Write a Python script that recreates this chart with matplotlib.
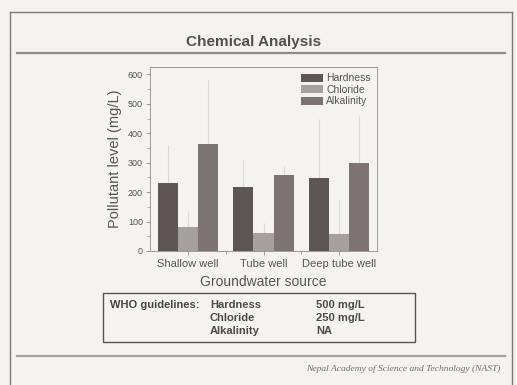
import numpy as np
import matplotlib
matplotlib.use("Agg")
import matplotlib.pyplot as plt
from matplotlib.lines import Line2D
from matplotlib.patches import Rectangle

plt.rcParams["font.family"] = ["Liberation Sans", "DejaVu Sans"]

# ── data ──
sources = ["Shallow well", "Tube well", "Deep tube well"]
params = ["Hardness", "Chloride", "Alkalinity"]
hardness = [230, 218, 248]
chloride = [80, 60, 57]
alkalinity = [365, 257, 300]
# upper end of the (faint) error bars
hardness_top = [360, 308, 450]
chloride_top = [133, 94, 173]
alkalinity_top = [580, 290, 460]

who_limits = ["500 mg/L", "250 mg/L", "NA"]

W, H = 517, 385
bg = "#f4f3f1"
colors = ["#5e5556", "#a6a0a1", "#7d7374"]
text_gray = "#555555"


def fx(x):
    return x / W


def fy(y):
    return 1 - y / H


fig = plt.figure(figsize=(W / 100, H / 100), dpi=100, facecolor=bg)

# ── slide frame, title, rules ──
for xs, ys, c, lw in [
    ([10, 10], [12, H], "#7a7a7a", 1.0),
    ([10, 512], [12, 12], "#7a7a7a", 1.0),
    ([512, 512], [12, H], "#7a7a7a", 1.0),
    ([17, 505], [53, 53], "#8a8a8a", 1.6),
    ([17, 505], [356, 356], "#a0a0a0", 1.6),
]:
    fig.add_artist(Line2D([fx(v) for v in xs], [fy(v) for v in ys],
                          color=c, lw=lw, transform=fig.transFigure))

fig.text(fx(254), fy(42), "Chemical Analysis", ha="center", va="center",
         fontsize=11, fontweight="bold", color="#505050")
fig.text(fx(500), fy(369), "Nepal Academy of Science and Technology (NAST)",
         ha="right", va="center", fontsize=6.8, style="italic",
         family="Liberation Serif", color="#707070")

# ── bar chart ──
ax = fig.add_axes([fx(150), fy(251), (377 - 150) / W, (251 - 67) / H])
ax.set_facecolor(bg)

x = np.arange(1, len(sources) + 1)
width = 0.265
series = [hardness, chloride, alkalinity]
tops = [hardness_top, chloride_top, alkalinity_top]
for i, (vals, top, name) in enumerate(zip(series, tops, params)):
    xpos = x + (i - 1) * width
    vals = np.array(vals)
    err = np.array(top) - vals
    ax.bar(xpos, vals, width=width, color=colors[i], label=name, zorder=2)
    ax.errorbar(xpos, vals, yerr=[np.zeros_like(err), err], fmt="none",
                ecolor="#dcd8d8", elinewidth=0.8, capsize=0, zorder=1)

ax.set_xlim(0.5, 3.5)
ax.set_ylim(0, 625)
ax.set_xticks(x)
ax.set_xticklabels(sources, fontsize=8, color=text_gray)
ax.set_xticks([1.5, 2.5], minor=True)
ax.set_yticks(range(0, 601, 100))
ax.set_yticks(range(50, 601, 100), minor=True)
ax.tick_params(axis="y", labelsize=6.5, labelcolor=text_gray, length=3,
               width=0.6, color="#888888", pad=2)
ax.tick_params(axis="x", length=3, width=0.6, color="#888888", pad=3)
ax.tick_params(which="minor", length=2, width=0.5, color="#999999")
for s in ax.spines.values():
    s.set_color("#9a9a9a")
    s.set_linewidth(0.7)

ax.set_xlabel("Groundwater source", fontsize=10, color=text_gray, labelpad=4)
ax.set_ylabel("Pollutant level (mg/L)", fontsize=10.5, color=text_gray,
              labelpad=4)

leg = ax.legend(loc="upper right", frameon=False, fontsize=7.5,
                borderaxespad=0.2, handlelength=2.1, handleheight=0.8,
                labelspacing=0.15, handletextpad=0.3)
for t in leg.get_texts():
    t.set_color(text_gray)

# ── WHO guideline box ──
fig.add_artist(Rectangle((fx(103), fy(342)), (415 - 103) / W, (342 - 293) / H,
                         fill=False, edgecolor="#555555", lw=1.0,
                         transform=fig.transFigure))
fig.text(fx(110), fy(305), "WHO guidelines:", ha="left", va="center",
         fontsize=8, fontweight="bold", color="#444444")
for k, (name, lim) in enumerate(zip(params, who_limits)):
    yy = 305 + k * 13
    fig.text(fx(210), fy(yy), name, ha="left", va="center",
             fontsize=8, fontweight="bold", color="#4a4a4a")
    fig.text(fx(316), fy(yy), lim, ha="left", va="center",
             fontsize=8, fontweight="bold", color="#4a4a4a")

fig.savefig("out.png", dpi=100, facecolor=bg)
